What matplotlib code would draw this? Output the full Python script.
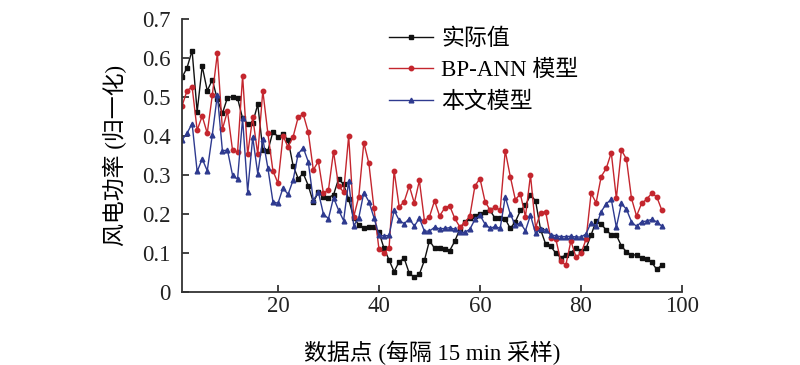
import matplotlib
matplotlib.use("Agg")
import matplotlib.pyplot as plt
import numpy as np

plt.rcParams['font.family'] = ['Liberation Serif', 'Noto Sans CJK SC', 'DejaVu Sans']

actual = [0.55, 0.575, 0.619, 0.462, 0.579, 0.516, 0.544, 0.494, 0.458, 0.498,
          0.501, 0.497, 0.445, 0.432, 0.434, 0.481, 0.365, 0.362, 0.411, 0.398,
          0.404, 0.39, 0.324, 0.291, 0.304, 0.273, 0.23, 0.256, 0.244, 0.242,
          0.249, 0.29, 0.276, 0.238, 0.19, 0.172, 0.165, 0.167, 0.167, 0.153,
          0.112, 0.082, 0.052, 0.078, 0.086, 0.048, 0.038, 0.046, 0.081, 0.132,
          0.112, 0.112, 0.11, 0.106, 0.13, 0.161, 0.18, 0.19, 0.196, 0.2,
          0.204, 0.209, 0.189, 0.189, 0.187, 0.163, 0.18, 0.209, 0.222, 0.249,
          0.234, 0.16, 0.123, 0.117, 0.1, 0.088, 0.095, 0.1, 0.114, 0.106,
          0.112, 0.146, 0.183, 0.174, 0.159, 0.146, 0.146, 0.118, 0.103, 0.095,
          0.095, 0.086, 0.084, 0.076, 0.058, 0.069]

bp_ann = [0.477, 0.516, 0.526, 0.415, 0.451, 0.407, 0.505, 0.612, 0.417, 0.464,
          0.364, 0.358, 0.554, 0.353, 0.448, 0.353, 0.516, 0.407, 0.311, 0.279,
          0.4, 0.372, 0.398, 0.448, 0.456, 0.41, 0.313, 0.335, 0.253, 0.262,
          0.36, 0.272, 0.256, 0.4, 0.193, 0.244, 0.383, 0.33, 0.215, 0.11,
          0.1, 0.112, 0.311, 0.218, 0.232, 0.272, 0.228, 0.286, 0.183, 0.193,
          0.234, 0.195, 0.215, 0.221, 0.189, 0.167, 0.178, 0.195, 0.272, 0.291,
          0.232, 0.21, 0.217, 0.21, 0.362, 0.296, 0.237, 0.251, 0.193, 0.3,
          0.165, 0.203, 0.206, 0.138, 0.137, 0.079, 0.069, 0.131, 0.09, 0.099,
          0.135, 0.253, 0.229, 0.296, 0.317, 0.357, 0.24, 0.364, 0.341, 0.24,
          0.195, 0.227, 0.238, 0.253, 0.244, 0.21]

proposed = [0.39, 0.407, 0.432, 0.309, 0.341, 0.311, 0.403, 0.505, 0.362, 0.364,
            0.3, 0.289, 0.445, 0.257, 0.397, 0.303, 0.393, 0.318, 0.232, 0.227,
            0.267, 0.25, 0.287, 0.354, 0.37, 0.334, 0.235, 0.256, 0.2, 0.188,
            0.242, 0.21, 0.183, 0.284, 0.17, 0.19, 0.255, 0.232, 0.191, 0.145,
            0.144, 0.145, 0.209, 0.184, 0.175, 0.188, 0.169, 0.189, 0.156, 0.156,
            0.166, 0.162, 0.163, 0.165, 0.161, 0.153, 0.153, 0.161, 0.186, 0.197,
            0.174, 0.163, 0.168, 0.163, 0.244, 0.2, 0.171, 0.177, 0.157, 0.197,
            0.15, 0.162, 0.159, 0.147, 0.144, 0.142, 0.142, 0.143, 0.141, 0.141,
            0.149, 0.178, 0.169, 0.206, 0.226, 0.238, 0.166, 0.227, 0.212, 0.18,
            0.168, 0.18, 0.182, 0.186, 0.18, 0.169]

labels = ['实际值', 'BP-ANN 模型', '本文模型']
x_ticks = [20, 40, 60, 80, 100]
y_ticks = [0, 0.1, 0.2, 0.3, 0.4, 0.5, 0.6, 0.7]
y_ticklabels = ['0', '0.1', '0.2', '0.3', '0.4', '0.5', '0.6', '0.7']

x = np.arange(1, len(actual) + 1)

fig = plt.figure(figsize=(8, 3.65), dpi=100)
ax = fig.add_axes([0.2275, 0.2, 0.625, 0.748])

ax.plot(x, actual, color='#111111', lw=1.0, marker='s', ms=2.8, label=labels[0])
ax.plot(x, bp_ann, color='#c4262e', lw=1.0, marker='o', ms=3.2, label=labels[1])
ax.plot(x, proposed, color='#2e3a8f', lw=1.0, marker='^', ms=3.4, label=labels[2])

ax.set_xlim(1, 100)
ax.set_ylim(0, 0.7)
ax.set_xticks(x_ticks)
ax.set_yticks(y_ticks)
ax.set_yticklabels(y_ticklabels)
ax.tick_params(direction='in', length=5, width=1.2, labelsize=16.5, colors='#222222')
ax.tick_params(axis='y', pad=8)
ax.tick_params(axis='x', pad=3)
for s in ['top', 'right']:
    ax.spines[s].set_visible(False)
for s in ['left', 'bottom']:
    ax.spines[s].set_linewidth(1.3)
    ax.spines[s].set_color('#333333')

ax.set_xlabel('数据点 (每隔 15 min 采样)', fontsize=16.5, labelpad=17)
ax.set_ylabel('风电功率 (归一化)', fontsize=16.5, labelpad=11)

leg = ax.legend(loc='upper left', bbox_to_anchor=(0.395, 1.0), frameon=False,
                fontsize=16.5, handlelength=1.95, handletextpad=0.35, labelspacing=0.45,
                borderaxespad=0)

fig.savefig('out.png', dpi=100)
